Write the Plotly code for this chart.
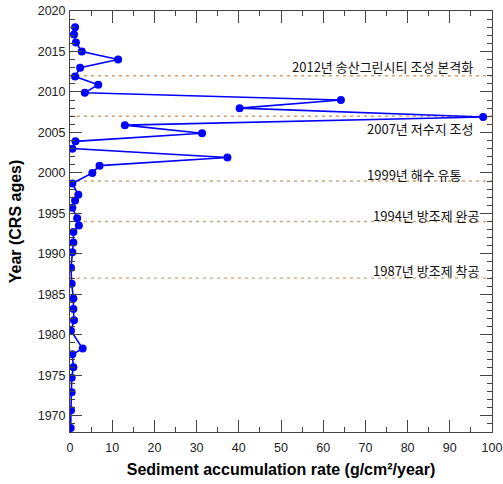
import plotly.graph_objects as go

# Data
years = [2018.0, 2017.1, 2016.1, 2015.0, 2014.0, 2013.0, 2011.9, 2010.9, 2009.9,
         2009.0, 2008.0, 2006.9, 2005.9, 2004.9, 2003.9, 2003.0, 2001.9, 2000.9,
         2000.0, 1998.7, 1997.3, 1996.6, 1995.7, 1994.4, 1993.5, 1992.7, 1991.4,
         1990.2, 1988.3, 1986.3, 1984.5, 1983.2, 1981.8, 1980.5, 1978.3, 1977.6,
         1976.0, 1974.7, 1972.9, 1970.7, 1968.5]
rates = [1.2, 0.95, 1.4, 2.8, 11.4, 2.4, 1.2, 6.7, 3.5,
         64.2, 40.2, 97.9, 13.0, 31.3, 1.3, 0.55, 37.3, 7.0,
         5.3, 0.55, 1.97, 1.2, 0.55, 1.7, 2.1, 0.8, 0.8,
         0.55, 0.24, 0.4, 0.8, 0.8, 0.95, 0.24, 3.0, 0.55,
         0.8, 0.4, 0.4, 0.24, 0.17]

event_years = [2012, 2007, 1999, 1994, 1987]
event_labels = ["2012년 송산그린시티 조성 본격화", "2007년 저수지 조성",
                "1999년 해수 유통", "1994년 방조제 완공", "1987년 방조제 착공"]
label_x = [96.0, 96.0, 93.4, 97.3, 97.3]
label_y = [2013.2, 2005.5, 1999.8, 1994.75, 1988.0]

fig = go.Figure()

fig.add_trace(go.Scatter(
    x=rates, y=years, mode="lines+markers",
    line=dict(color="#0000FF", width=1.6),
    marker=dict(color="#0000FF", size=8),
    showlegend=False, hoverinfo="skip"))

for yv in event_years:
    fig.add_shape(type="line", xref="x", yref="y", x0=0, x1=100, y0=yv, y1=yv,
                  line=dict(color="#D4A373", width=1.4, dash="3px,4px"), layer="below")

for txt, lx, ly in zip(event_labels, label_x, label_y):
    fig.add_annotation(x=lx, y=ly, xref="x", yref="y", text=txt, showarrow=False,
                       xanchor="right", yanchor="middle",
                       font=dict(family="Noto Sans CJK KR", size=13, color="#111111"))

axis_common = dict(
    showgrid=False, zeroline=False, showline=True, linecolor="#444444", linewidth=1,
    mirror="ticks", ticks="inside", ticklen=12, tickwidth=1, tickcolor="#444444",
    tickfont=dict(family="Liberation Sans", size=12.5, color="#222222"),
)

fig.update_xaxes(range=[0, 100], dtick=10, tick0=0, ticklabelstandoff=4,
                 minor=dict(ticks="inside", ticklen=5, dtick=5, tickcolor="#444444"),
                 title=dict(text="Sediment accumulation rate (g/cm²/year)",
                            font=dict(family="Liberation Sans", size=16, color="#000000",
                                      weight="bold"),
                            standoff=9),
                 **axis_common)
fig.update_yaxes(range=[1968, 2020], dtick=5, tick0=1970, ticklabelstandoff=1,
                 minor=dict(ticks="inside", ticklen=5, dtick=1, tickcolor="#444444"),
                 title=dict(text="Year (CRS ages)",
                            font=dict(family="Liberation Sans", size=16, color="#000000",
                                      weight="bold"),
                            standoff=12),
                 **axis_common)

fig.update_layout(
    width=503, height=484,
    margin=dict(l=70, r=11, t=11, b=52, autoexpand=False),
    plot_bgcolor="white", paper_bgcolor="white",
)

fig.write_html("out.html", config={"displayModeBar": False},
               post_script="document.body.style.margin='0';document.body.style.overflow='hidden';")
